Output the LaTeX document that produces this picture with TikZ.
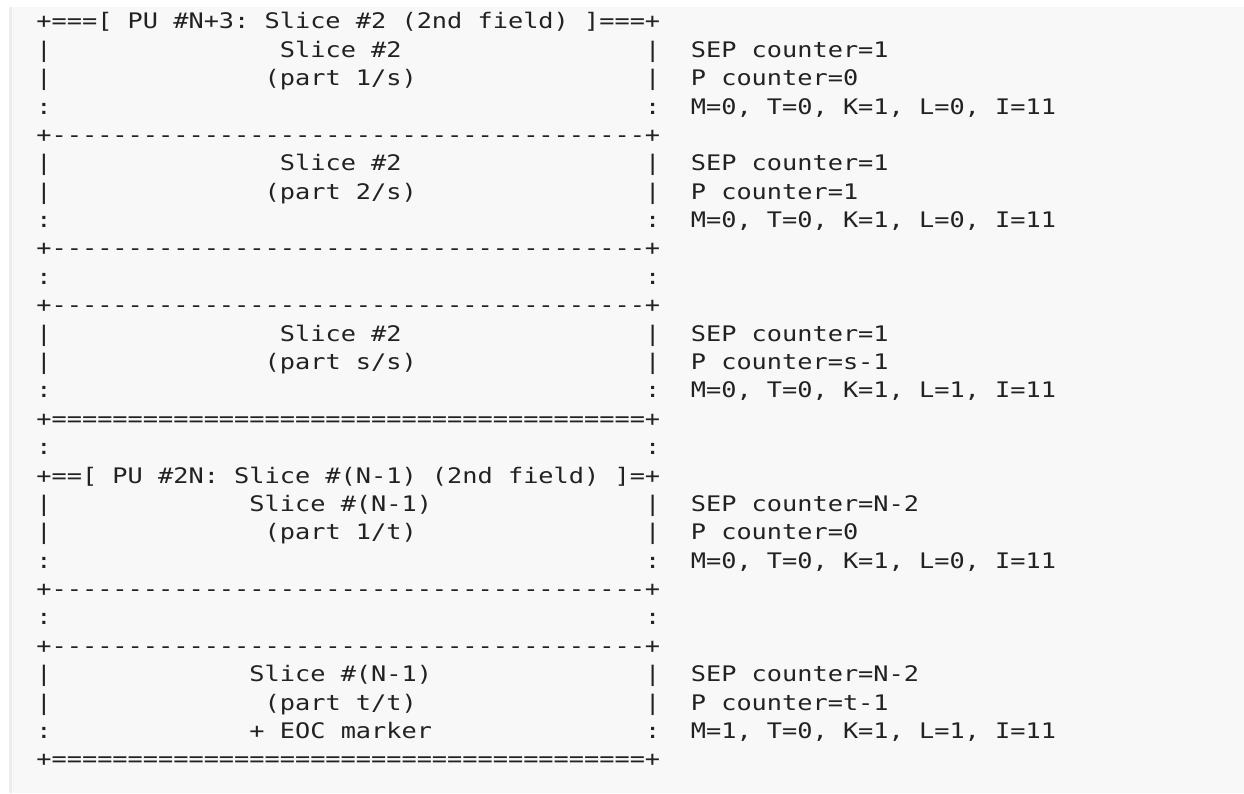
\documentclass[tikz,border=0pt]{standalone}
\usepackage{fontspec}
\setmonofont{DejaVu Sans Mono}[FakeStretch=1.181]
\definecolor{bgc}{HTML}{F8F8F8}
\definecolor{borderc}{HTML}{ECECEC}
\definecolor{textc}{HTML}{222222}
\tikzset{
  txt/.style={anchor=base west, inner sep=0pt, outer sep=0pt, text=textc,
    font=\ttfamily\fontsize{21.4}{21.4}\selectfont}
}
% \tl{name}{column}{row}{text}
\newcommand\tl[4]{\node[txt] (#1) at ({36.4+#2*15.22},{57.3+(#3-2)*28.38}) {#4};}
\newcommand\dashln{+{----------}{----------}{----------}{---------}+}
\newcommand\eqln{+{==========}{==========}{==========}{=========}+}
\begin{document}
\begin{tikzpicture}[x=1pt,y=-1pt]
\useasboundingbox (0,0) rectangle (1244,793);
\fill[white] (0,0) rectangle (1244,793);
\fill[bgc] (10,7) rectangle (1244,793);
\fill[borderc] (9,7) rectangle (12,793);
% block 1
\tl{r1}{0}{1}{+===[ PU \#N+3: Slice \#2 (2nd field) ]===+}
\tl{r2a}{0}{2}{|}\tl{r2b}{16}{2}{Slice \#2}\tl{r2c}{40}{2}{|}\tl{r2d}{43}{2}{SEP counter=1}
\tl{r3a}{0}{3}{|}\tl{r3b}{15}{3}{(part 1/s)}\tl{r3c}{40}{3}{|}\tl{r3d}{43}{3}{P counter=0}
\tl{r4a}{0}{4}{:}\tl{r4c}{40}{4}{:}\tl{r4d}{43}{4}{M=0, T=0, K=1, L=0, I=11}
\tl{r5}{0}{5}{\dashln}
% block 2
\tl{r6a}{0}{6}{|}\tl{r6b}{16}{6}{Slice \#2}\tl{r6c}{40}{6}{|}\tl{r6d}{43}{6}{SEP counter=1}
\tl{r7a}{0}{7}{|}\tl{r7b}{15}{7}{(part 2/s)}\tl{r7c}{40}{7}{|}\tl{r7d}{43}{7}{P counter=1}
\tl{r8a}{0}{8}{:}\tl{r8c}{40}{8}{:}\tl{r8d}{43}{8}{M=0, T=0, K=1, L=0, I=11}
\tl{r9}{0}{9}{\dashln}
\tl{r10a}{0}{10}{:}\tl{r10c}{40}{10}{:}
\tl{r11}{0}{11}{\dashln}
% block 3
\tl{r12a}{0}{12}{|}\tl{r12b}{16}{12}{Slice \#2}\tl{r12c}{40}{12}{|}\tl{r12d}{43}{12}{SEP counter=1}
\tl{r13a}{0}{13}{|}\tl{r13b}{15}{13}{(part s/s)}\tl{r13c}{40}{13}{|}\tl{r13d}{43}{13}{P counter=s-1}
\tl{r14a}{0}{14}{:}\tl{r14c}{40}{14}{:}\tl{r14d}{43}{14}{M=0, T=0, K=1, L=1, I=11}
\tl{r15}{0}{15}{\eqln}
\tl{r16a}{0}{16}{:}\tl{r16c}{40}{16}{:}
% block 4
\tl{r17}{0}{17}{+==[ PU \#2N: Slice \#(N-1) (2nd field) ]=+}
\tl{r18a}{0}{18}{|}\tl{r18b}{14}{18}{Slice \#(N-1)}\tl{r18c}{40}{18}{|}\tl{r18d}{43}{18}{SEP counter=N-2}
\tl{r19a}{0}{19}{|}\tl{r19b}{15}{19}{(part 1/t)}\tl{r19c}{40}{19}{|}\tl{r19d}{43}{19}{P counter=0}
\tl{r20a}{0}{20}{:}\tl{r20c}{40}{20}{:}\tl{r20d}{43}{20}{M=0, T=0, K=1, L=0, I=11}
\tl{r21}{0}{21}{\dashln}
\tl{r22a}{0}{22}{:}\tl{r22c}{40}{22}{:}
\tl{r23}{0}{23}{\dashln}
% block 5
\tl{r24a}{0}{24}{|}\tl{r24b}{14}{24}{Slice \#(N-1)}\tl{r24c}{40}{24}{|}\tl{r24d}{43}{24}{SEP counter=N-2}
\tl{r25a}{0}{25}{|}\tl{r25b}{15}{25}{(part t/t)}\tl{r25c}{40}{25}{|}\tl{r25d}{43}{25}{P counter=t-1}
\tl{r26a}{0}{26}{:}\tl{r26b}{14}{26}{+ EOC marker}\tl{r26c}{40}{26}{:}\tl{r26d}{43}{26}{M=1, T=0, K=1, L=1, I=11}
\tl{r27}{0}{27}{\eqln}
\end{tikzpicture}
\end{document}
